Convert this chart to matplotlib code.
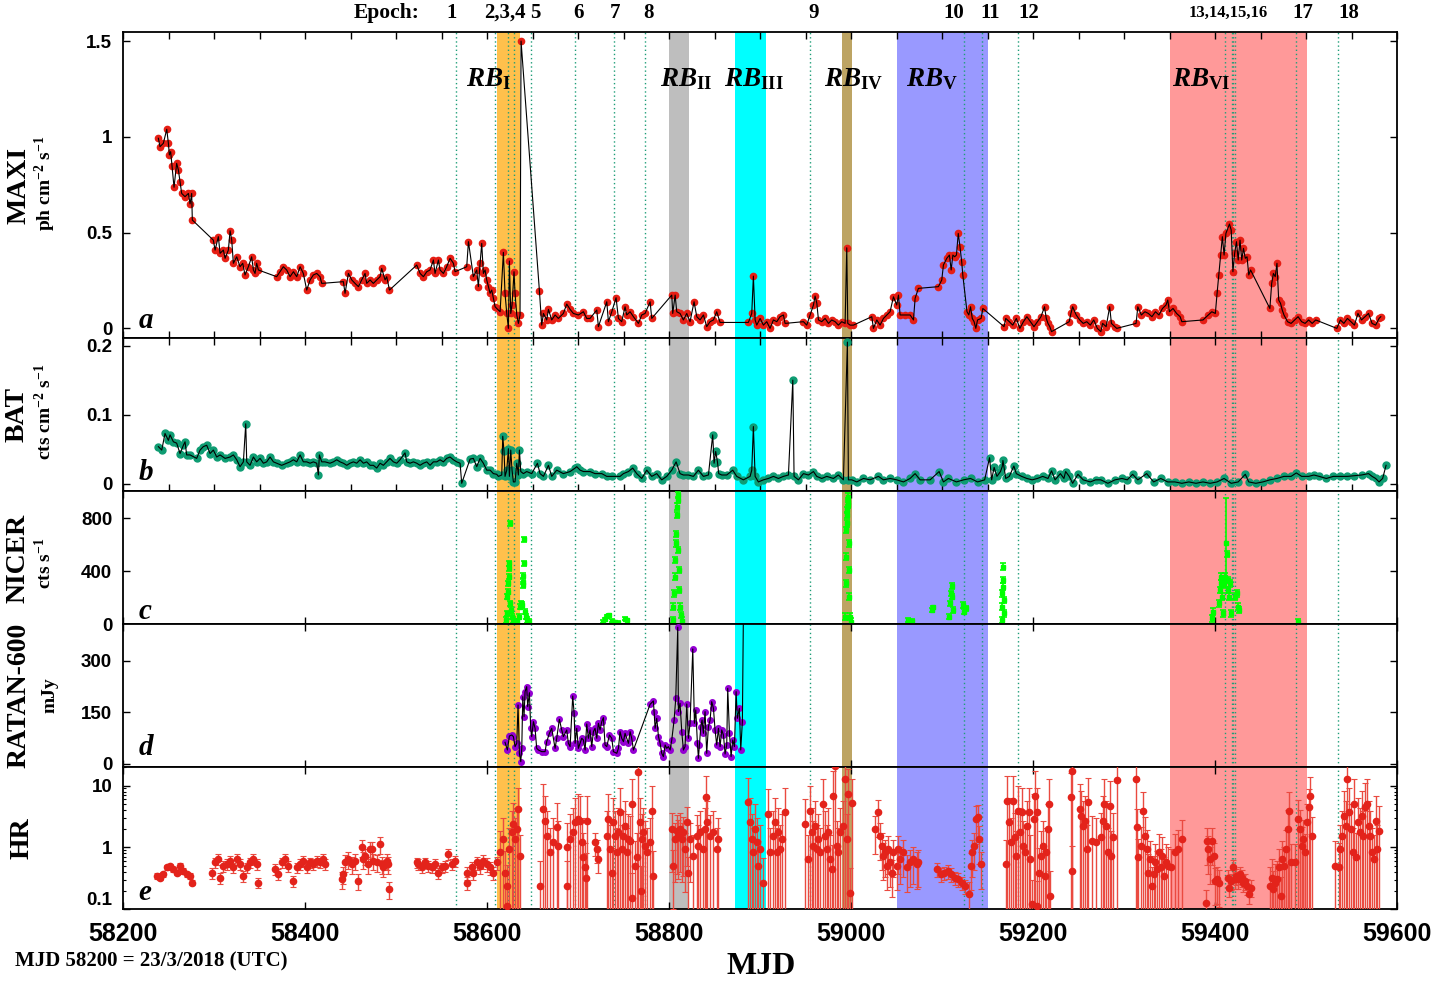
import matplotlib
matplotlib.use('Agg')
import matplotlib.pyplot as plt
from matplotlib.ticker import MultipleLocator, FixedLocator, FixedFormatter, LogLocator, NullFormatter

plt.rcParams['font.family'] = 'Liberation Sans'
plt.rcParams['font.weight'] = 'bold'
plt.rcParams['mathtext.fontset'] = 'custom'
plt.rcParams['mathtext.rm'] = 'Liberation Serif:bold'
plt.rcParams['mathtext.it'] = 'Liberation Serif:italic:bold'
plt.rcParams['mathtext.bf'] = 'Liberation Serif:bold'

# ---------------- data ----------------
# MAXI  (ph cm-2 s-1)
maxi_mjd = [
    58238.5, 58240.3, 58244.0, 58247.7, 58249.5, 58250.6, 58252.0, 58253.5, 58255.7, 58258.6,
    58260.5, 58262.3, 58264.1, 58267.8, 58271.5, 58273.3, 58275.1, 58275.8, 58298.9, 58300.8,
    58304.4, 58306.3, 58309.9, 58311.8, 58315.4, 58317.3, 58319.1, 58320.9, 58324.6, 58328.2,
    58331.2, 58333.7, 58337.4, 58341.0, 58342.9, 58344.7, 58346.5, 58348.4, 58368.5, 58372.2,
    58375.8, 58379.5, 58383.2, 58386.9, 58390.5, 58394.2, 58397.8, 58401.5, 58405.2, 58408.8,
    58412.5, 58416.1, 58418.0, 58441.8, 58443.6, 58447.3, 58451.0, 58454.6, 58458.3, 58461.9,
    58465.6, 58467.4, 58471.1, 58474.7, 58478.4, 58482.1, 58483.9, 58487.6, 58489.4, 58492.4,
    58522.4, 58526.1, 58529.7, 58533.4, 58537.0, 58540.7, 58542.5, 58546.2, 58548.0, 58551.7,
    58555.3, 58559.0, 58562.7, 58564.5, 58577.3, 58579.2, 58584.6, 58588.3, 58590.1, 58592.0,
    58593.8, 58595.6, 58597.5, 58599.3, 58601.1, 58603.0, 58604.8, 58606.6, 58608.5, 58610.3,
    58614.0, 58617.6, 58619.4, 58621.3, 58623.1, 58624.2, 58625.7, 58627.1, 58629.3, 58630.4,
    58632.3, 58634.1, 58635.9, 58637.0, 58657.2, 58659.7, 58661.6, 58665.2, 58667.1, 58670.7,
    58674.4, 58678.0, 58683.5, 58687.2, 58690.9, 58694.5, 58700.0, 58705.5, 58709.2, 58712.8,
    58720.2, 58722.0, 58731.2, 58733.0, 58736.7, 58741.4, 58744.0, 58747.6, 58751.3, 58753.1,
    58756.8, 58760.5, 58766.0, 58769.6, 58773.3, 58778.8, 58780.6, 58802.6, 58803.7, 58806.3,
    58808.1, 58811.7, 58815.4, 58819.1, 58822.7, 58827.1, 58830.1, 58833.7, 58837.4, 58841.0,
    58844.7, 58848.4, 58852.0, 58855.7, 58886.8, 58890.5, 58892.3, 58894.2, 58896.0, 58899.7,
    58903.3, 58907.0, 58910.6, 58914.3, 58918.0, 58921.6, 58925.3, 58927.1, 58947.3, 58950.9,
    58954.6, 58958.3, 58960.1, 58962.0, 58963.8, 58967.4, 58971.1, 58974.8, 58978.4, 58982.1,
    58985.7, 58989.4, 58993.1, 58994.9, 58996.0, 58998.6, 59002.2, 59022.4, 59024.2, 59027.9,
    59031.5, 59035.2, 59038.9, 59042.5, 59046.2, 59049.8, 59051.7, 59053.5, 59059.0, 59064.5,
    59068.2, 59070.0, 59073.6, 59095.6, 59099.3, 59101.1, 59104.8, 59107.7, 59109.6, 59111.5,
    59113.5, 59115.4, 59117.4, 59119.3, 59121.2, 59122.4, 59127.0, 59129.0, 59130.9, 59132.8,
    59134.8, 59136.7, 59138.6, 59142.5, 59144.4, 59167.7, 59169.6, 59173.5, 59177.3, 59181.2,
    59185.1, 59189.0, 59192.8, 59196.7, 59200.6, 59204.4, 59208.3, 59212.2, 59214.1, 59216.0,
    59218.0, 59219.9, 59239.3, 59241.2, 59243.1, 59247.0, 59250.9, 59254.7, 59258.6, 59262.5,
    59266.3, 59270.2, 59274.1, 59276.0, 59279.9, 59283.8, 59285.7, 59289.6, 59291.5, 59312.8,
    59314.7, 59318.6, 59322.5, 59326.3, 59330.2, 59334.1, 59337.9, 59341.8, 59345.7, 59347.6,
    59349.5, 59353.4, 59357.3, 59361.2, 59363.1, 59386.3, 59392.1, 59396.0, 59399.9, 59401.8,
    59403.7, 59405.7, 59407.6, 59409.5, 59411.5, 59415.4, 59417.3, 59419.2, 59421.1, 59423.1,
    59425.0, 59427.0, 59428.9, 59430.8, 59432.8, 59434.7, 59436.6, 59438.6, 59459.8, 59461.8,
    59463.7, 59465.7, 59467.6, 59469.5, 59471.5, 59473.4, 59475.3, 59479.2, 59483.1, 59487.0,
    59490.8, 59494.7, 59498.5, 59502.4, 59506.3, 59510.2, 59533.4, 59537.3, 59541.1, 59545.0,
    59548.9, 59552.7, 59556.6, 59560.5, 59564.3, 59568.2, 59572.1, 59576.0, 59579.8, 59581.7,
]
maxi_flux = [
    0.993, 0.949, 0.967, 1.040, 0.967, 0.906, 0.923, 0.850, 0.737, 0.862,
    0.827, 0.766, 0.705, 0.688, 0.705, 0.650, 0.705, 0.566, 0.461, 0.409,
    0.479, 0.392, 0.409, 0.366, 0.409, 0.510, 0.461, 0.340, 0.374, 0.322,
    0.340, 0.279, 0.322, 0.374, 0.305, 0.287, 0.340, 0.305, 0.270, 0.296,
    0.322, 0.305, 0.270, 0.296, 0.270, 0.322, 0.287, 0.200, 0.253, 0.279,
    0.287, 0.270, 0.235, 0.244, 0.183, 0.287, 0.253, 0.235, 0.218, 0.253,
    0.287, 0.235, 0.253, 0.235, 0.253, 0.270, 0.313, 0.253, 0.270, 0.200,
    0.331, 0.287, 0.270, 0.296, 0.305, 0.357, 0.287, 0.357, 0.305, 0.287,
    0.322, 0.366, 0.340, 0.296, 0.322, 0.453, 0.270, 0.305, 0.218, 0.340,
    0.444, 0.287, 0.305, 0.253, 0.218, 0.183, 0.200, 0.157, 0.113, 0.104,
    0.087, 0.397, 0.183, 0.078, 0.000, 0.352, 0.078, 0.122, 0.296, 0.183,
    0.070, 0.026, 0.070, 1.501, 0.195, 0.017, 0.078, 0.044, 0.099, 0.044,
    0.070, 0.052, 0.078, 0.127, 0.099, 0.078, 0.070, 0.087, 0.052, 0.052,
    0.096, 0.009, 0.139, 0.035, 0.087, 0.160, 0.052, 0.035, 0.113, 0.070,
    0.087, 0.061, 0.026, 0.070, 0.078, 0.139, 0.052, 0.174, 0.078, 0.174,
    0.087, 0.078, 0.044, 0.078, 0.035, 0.139, 0.061, 0.044, 0.070, 0.009,
    0.035, 0.044, 0.087, 0.031, 0.031, 0.078, 0.273, 0.044, 0.017, 0.052,
    0.017, 0.035, 0.000, 0.044, 0.035, 0.061, 0.070, 0.026, 0.035, 0.017,
    0.070, 0.122, 0.169, 0.131, 0.044, 0.035, 0.052, 0.026, 0.044, 0.035,
    0.017, 0.035, 0.026, 0.421, 0.026, 0.017, 0.017, 0.061, 0.000, 0.044,
    0.017, 0.052, 0.070, 0.087, 0.165, 0.122, 0.174, 0.070, 0.070, 0.070,
    0.044, 0.157, 0.209, 0.218, 0.253, 0.331, 0.366, 0.383, 0.305, 0.383,
    0.374, 0.383, 0.496, 0.427, 0.348, 0.279, 0.087, 0.070, 0.113, 0.052,
    0.035, 0.000, 0.044, 0.052, 0.104, 0.009, 0.052, 0.035, 0.017, 0.052,
    0.000, 0.035, 0.061, 0.035, 0.009, 0.035, 0.061, 0.113, 0.052, 0.026,
    0.009, -0.017, 0.035, 0.078, 0.113, 0.070, 0.044, 0.026, 0.035, 0.017,
    0.044, 0.000, -0.017, 0.026, 0.009, 0.113, 0.026, 0.009, 0.000, 0.026,
    0.113, 0.070, 0.087, 0.078, 0.061, 0.087, 0.070, 0.104, 0.122, 0.148,
    0.087, 0.104, 0.078, 0.061, 0.035, 0.044, 0.070, 0.087, 0.078, 0.183,
    0.279, 0.383, 0.479, 0.383, 0.496, 0.545, 0.514, 0.296, 0.392, 0.453,
    0.357, 0.461, 0.357, 0.418, 0.366, 0.374, 0.279, 0.305, 0.104, 0.235,
    0.287, 0.270, 0.340, 0.148, 0.131, 0.096, 0.070, 0.035, 0.026, 0.044,
    0.061, 0.035, 0.026, 0.044, 0.026, 0.044, 0.000, 0.044, 0.026, 0.052,
    0.035, 0.017, 0.078, 0.044, 0.061, 0.078, 0.026, 0.017, 0.052, 0.061,
]

# Swift/BAT (cts cm-2 s-1)
bat_mjd = [
    58238.5, 58242.2, 58245.8, 58249.5, 58251.3, 58255.0, 58258.6, 58262.3, 58266.0, 58267.8,
    58269.6, 58273.3, 58280.6, 58284.3, 58287.9, 58291.6, 58295.3, 58298.9, 58302.6, 58306.3,
    58311.8, 58317.3, 58320.9, 58324.6, 58328.2, 58331.9, 58334.5, 58335.6, 58339.2, 58342.9,
    58346.5, 58350.2, 58353.9, 58357.5, 58361.2, 58364.9, 58368.5, 58374.0, 58379.5, 58383.2,
    58386.9, 58390.5, 58394.2, 58397.8, 58401.5, 58405.2, 58408.8, 58412.5, 58414.3, 58415.4,
    58418.0, 58421.6, 58427.1, 58430.8, 58434.5, 58438.1, 58441.8, 58445.5, 58449.1, 58452.8,
    58456.4, 58460.1, 58463.8, 58467.4, 58471.1, 58474.7, 58478.4, 58482.1, 58485.7, 58489.4,
    58493.0, 58496.7, 58500.4, 58504.0, 58509.5, 58511.4, 58515.0, 58518.7, 58522.4, 58526.0,
    58529.7, 58533.4, 58537.0, 58540.7, 58544.4, 58548.0, 58551.7, 58555.3, 58559.0, 58562.7,
    58566.3, 58570.0, 58571.8, 58581.0, 58584.6, 58588.3, 58592.0, 58595.6, 58599.3, 58603.0,
    58606.6, 58610.3, 58612.1, 58615.8, 58616.9, 58618.3, 58619.4, 58621.3, 58623.1, 58624.2,
    58625.7, 58627.1, 58628.6, 58630.4, 58632.3, 58634.1, 58635.2, 58636.7, 58639.6, 58643.2,
    58648.7, 58655.0, 58657.9, 58661.6, 58667.1, 58670.7, 58676.2, 58683.5, 58690.9, 58696.4,
    58698.2, 58701.9, 58705.5, 58712.8, 58718.3, 58725.7, 58731.2, 58736.7, 58745.8, 58749.5,
    58755.0, 58759.7, 58764.1, 58769.6, 58775.1, 58780.6, 58786.1, 58791.6, 58797.1, 58802.6,
    58807.4, 58811.7, 58815.4, 58820.9, 58826.4, 58831.9, 58837.4, 58842.9, 58847.6, 58849.1,
    58850.9, 58852.8, 58854.2, 58857.5, 58863.0, 58869.6, 58874.0, 58881.3, 58888.7, 58890.5,
    58892.3, 58894.2, 58897.8, 58903.3, 58908.8, 58914.3, 58919.8, 58925.3, 58930.8, 58935.6,
    58937.0, 58941.8, 58947.3, 58952.8, 58958.3, 58961.9, 58967.4, 58972.9, 58980.2, 58985.7,
    58991.2, 58995.6, 58996.7, 59000.4, 59005.9, 59013.2, 59020.5, 59029.7, 59035.2, 59042.5,
    59049.8, 59057.2, 59064.5, 59070.0, 59075.5, 59086.5, 59096.4, 59101.1, 59106.6, 59115.4,
    59123.2, 59130.9, 59138.6, 59146.4, 59151.8, 59154.1, 59156.8, 59159.9, 59163.8, 59165.7,
    59166.5, 59169.6, 59173.5, 59178.5, 59181.2, 59187.0, 59192.8, 59198.6, 59204.4, 59210.2,
    59216.0, 59219.9, 59223.8, 59229.6, 59233.5, 59235.4, 59239.3, 59243.1, 59248.9, 59254.7,
    59262.5, 59268.3, 59274.1, 59281.8, 59289.6, 59297.3, 59303.1, 59309.0, 59314.7, 59324.4,
    59332.1, 59339.9, 59347.6, 59355.4, 59363.1, 59370.8, 59378.6, 59386.3, 59394.1, 59401.8,
    59409.5, 59417.3, 59425.0, 59432.8, 59436.6, 59444.4, 59452.1, 59459.9, 59467.6, 59475.3,
    59483.1, 59488.9, 59494.7, 59502.4, 59508.2, 59514.0, 59521.8, 59529.5, 59537.3, 59545.0,
    59552.7, 59560.5, 59568.2, 59572.1, 59576.0, 59579.8, 59583.7, 59587.5,
]
bat_rate = [
    0.054, 0.049, 0.073, 0.063, 0.071, 0.061, 0.059, 0.044, 0.056, 0.061,
    0.042, 0.042, 0.037, 0.049, 0.054, 0.056, 0.044, 0.049, 0.039, 0.042,
    0.037, 0.039, 0.042, 0.035, 0.025, 0.032, 0.087, 0.032, 0.027, 0.039,
    0.032, 0.037, 0.030, 0.032, 0.039, 0.032, 0.030, 0.027, 0.030, 0.032,
    0.035, 0.032, 0.042, 0.032, 0.032, 0.030, 0.032, 0.030, 0.013, 0.042,
    0.032, 0.032, 0.030, 0.032, 0.035, 0.032, 0.030, 0.027, 0.030, 0.032,
    0.030, 0.035, 0.030, 0.032, 0.027, 0.027, 0.023, 0.030, 0.027, 0.032,
    0.037, 0.032, 0.030, 0.035, 0.045, 0.032, 0.030, 0.032, 0.030, 0.027,
    0.030, 0.032, 0.027, 0.032, 0.032, 0.035, 0.032, 0.037, 0.039, 0.035,
    0.032, 0.030, 0.001, 0.036, 0.037, 0.025, 0.037, 0.030, 0.020, 0.020,
    0.015, 0.014, 0.011, 0.013, 0.069, 0.047, 0.011, 0.020, 0.051, 0.011,
    0.049, 0.020, 0.003, 0.003, 0.030, 0.013, 0.049, 0.018, 0.015, 0.018,
    0.015, 0.030, 0.015, 0.011, 0.027, 0.011, 0.020, 0.015, 0.018, 0.023,
    0.025, 0.020, 0.018, 0.018, 0.015, 0.015, 0.011, 0.011, 0.011, 0.015,
    0.018, 0.023, 0.015, 0.008, 0.020, 0.011, 0.015, 0.006, 0.011, 0.020,
    0.032, 0.015, 0.013, 0.013, 0.011, 0.020, 0.011, 0.013, 0.071, 0.030,
    0.047, 0.032, 0.015, 0.013, 0.013, 0.020, 0.011, 0.006, 0.011, 0.020,
    0.083, 0.011, 0.003, 0.006, 0.008, 0.011, 0.008, 0.011, 0.013, 0.150,
    0.011, 0.006, 0.015, 0.013, 0.018, 0.011, 0.008, 0.011, 0.008, 0.013,
    0.006, 0.205, 0.006, 0.006, 0.003, 0.008, 0.006, 0.011, 0.006, 0.008,
    0.006, 0.003, 0.008, 0.015, 0.006, 0.006, 0.018, 0.003, 0.008, 0.003,
    0.006, 0.008, 0.003, 0.006, 0.038, 0.006, 0.024, 0.011, 0.018, 0.025,
    0.034, 0.008, 0.011, 0.026, 0.015, 0.011, 0.008, 0.006, 0.008, 0.011,
    0.008, 0.019, 0.006, 0.015, 0.008, 0.018, 0.011, 0.001, 0.014, 0.006,
    0.003, 0.006, 0.006, 0.001, 0.006, 0.008, 0.006, 0.014, 0.006, 0.015,
    0.003, 0.008, 0.003, 0.003, 0.001, 0.003, 0.001, 0.003, 0.001, 0.003,
    0.008, 0.001, 0.003, 0.014, 0.003, 0.001, 0.003, 0.006, 0.008, 0.011,
    0.011, 0.016, 0.011, 0.011, 0.013, 0.011, 0.008, 0.011, 0.011, 0.011,
    0.012, 0.013, 0.015, 0.011, 0.008, 0.003, 0.008, 0.027,
]

# NICER (cts s-1)
nicer_mjd = [
    58620.5, 58621.3, 58622.0, 58622.7, 58623.1, 58623.5, 58623.8, 58624.2, 58624.6, 58625.0,
    58625.7, 58626.8, 58628.6, 58630.4, 58632.3, 58635.2, 58635.9, 58636.7, 58637.8, 58638.9,
    58639.2, 58639.6, 58640.0, 58640.3, 58641.4, 58642.5, 58644.0, 58646.2,
    58726.8, 58729.3, 58731.9, 58734.1, 58736.7, 58740.3, 58744.0, 58751.3, 58753.1,
    58803.7, 58804.4, 58805.2, 58805.9, 58806.6, 58807.4, 58807.7, 58808.1, 58808.5, 58809.2,
    58809.6, 58809.9, 58810.3, 58810.7, 58811.4, 58812.9, 58814.3,
    58993.4, 58993.8, 58994.2, 58994.5, 58994.9, 58995.3, 58995.6, 58996.0, 58996.4, 58996.7,
    58997.1, 58997.5, 58997.8, 58998.6, 58999.3,
    59062.7, 59066.3, 59088.3, 59089.4,
    59107.7, 59108.5, 59109.2, 59110.0, 59110.8, 59111.5, 59122.4, 59123.9, 59125.5,
    59165.0, 59165.3, 59165.7, 59166.1, 59166.5, 59166.9, 59167.3, 59167.7,
    59396.0, 59397.2, 59403.7, 59404.9, 59405.7, 59406.5, 59407.6, 59408.8, 59409.6, 59410.3,
    59411.5, 59412.3, 59413.4, 59414.2, 59415.4, 59416.5, 59417.3, 59421.9, 59423.5, 59425.0,
    59426.2, 59490.8,
]
nicer_rate = [
    30, 81, 207, 245, 308, 358, 421, 459, 761, 156,
    106, 55, 30, 18, 18, 55, 131, 156, 144, 295,
    320, 366, 459, 640, 93, 55, 30, 18,
    18, 35, 60, 66, 25, 15, 10, 40, 30,
    30, 131, 232, 358, 484, 610, 681, 824, 888, 938,
    976, 560, 408, 257, 131, 68, 25,
    55, 308, 509, 711, 761, 824, 862, 900, 925, 963,
    610, 408, 207, 55, 18,
    30, 25, 106, 126,
    55, 156, 232, 287, 207, 106, 144, 93, 118,
    30, 131, 232, 333, 434, 282, 182, 81,
    43, 93, 156, 257, 308, 358, 207, 81, 308, 358,
    610, 530, 333, 257, 207, 308, 81, 207, 232, 131,
    106, 15,
]
nicer_err = ([20] * 28 + [10] * 9 + [25] * 17 + [25] * 15 + [12] * 4 + [20] * 9
             + [25] * 8 + [25] * 10 + [340] + [25] * 11)

# RATAN-600 (mJy)
ratan_mjd = [
    58619.4, 58622.0, 58624.2, 58626.8, 58628.6, 58630.4, 58632.3, 58633.7, 58635.2, 58636.7,
    58637.8, 58638.9, 58640.3, 58641.4, 58643.2, 58644.3, 58646.2, 58647.6, 58648.7, 58650.6,
    58652.4, 58654.2, 58656.1, 58659.7, 58663.4, 58665.2, 58668.2, 58670.7, 58674.4, 58676.2,
    58679.1, 58681.7, 58683.5, 58687.2, 58689.0, 58690.9, 58693.8, 58695.3, 58696.4, 58698.2,
    58700.0, 58701.9, 58703.7, 58705.5, 58707.4, 58709.2, 58711.0, 58712.8, 58714.7, 58716.5,
    58718.3, 58720.2, 58722.0, 58723.8, 58725.7, 58727.5, 58729.3, 58731.2, 58734.1, 58736.7,
    58738.5, 58742.2, 58744.0, 58745.8, 58747.6, 58749.5, 58751.3, 58755.0, 58756.8, 58758.6,
    58760.5, 58778.8, 58782.4, 58783.2, 58784.3, 58786.1, 58788.0, 58789.8, 58791.6, 58793.4,
    58795.3, 58797.1, 58798.9, 58800.8, 58802.6, 58805.2, 58807.0, 58809.2, 58809.9, 58811.7,
    58813.6, 58815.4, 58817.2, 58819.1, 58820.9, 58822.7, 58825.7, 58827.5, 58829.0, 58830.8,
    58831.9, 58833.0, 58834.5, 58835.9, 58837.4, 58839.2, 58841.0, 58842.9, 58844.7, 58846.5,
    58848.4, 58850.2, 58852.0, 58853.9, 58855.7, 58857.5, 58859.4, 58861.2, 58863.0, 58864.1,
    58866.0, 58867.8, 58869.6, 58871.5, 58873.3, 58874.7, 58876.9, 58878.4, 58880.2, 58881.3,
]
ratan_flux = [
    62.9, 40.6, 81.2, 84.1, 79.3, 50.3, 60.0, 171.2, 30.9, 6.8,
    45.4, 195.3, 137.3, 209.8, 224.3, 166.3, 206.9, 103.5, 79.3, 122.8,
    103.5, 45.4, 40.6, 35.8, 35.8, 64.8, 89.0, 103.5, 45.4, 74.5,
    129.6, 98.6, 79.3, 98.6, 60.0, 50.3, 197.3, 147.0, 60.0, 103.5,
    45.4, 60.0, 74.5, 69.6, 40.6, 116.0, 74.5, 98.6, 50.3, 93.8,
    103.5, 74.5, 118.0, 98.6, 122.8, 134.4, 55.1, 50.3, 84.1, 74.5,
    35.8, 30.9, 45.4, 93.8, 74.5, 64.8, 89.0, 60.0, 93.8, 74.5,
    40.6, 173.1, 182.8, 151.8, 103.5, 132.5, 79.3, 60.0, 30.9, 21.3,
    55.1, 45.4, 50.3, 40.6, 69.6, 127.6, 190.5, 396.5, 151.8, 176.0,
    93.8, 40.6, 50.3, 174.1, 74.5, 118.0, 333.6, 118.0, 156.7, 60.0,
    16.4, 55.1, 108.3, 127.6, 89.0, 151.8, 30.9, 108.3, 127.6, 180.8,
    161.5, 98.6, 55.1, 103.5, 50.3, 98.6, 84.1, 29.0, 55.1, 219.5,
    89.0, 21.3, 69.6, 50.3, 209.8, 132.5, 161.5, 40.6, 122.8, 430.0,
]

# hardness ratio
hr_mjd = [
    58236.7, 58240.3, 58244.0, 58247.7, 58251.3, 58255.0, 58258.6, 58262.3, 58266.0, 58269.6, 58273.3, 58275.1,
    58297.1, 58300.8, 58304.4, 58306.3, 58309.9, 58313.6, 58317.3, 58320.9, 58324.6, 58328.2, 58331.9, 58335.6,
    58339.2, 58342.9, 58346.5, 58348.4,
    58366.7, 58370.4, 58374.0, 58377.7, 58381.4, 58386.8, 58390.5, 58394.2, 58397.8, 58401.5, 58405.2, 58408.8,
    58412.5, 58416.1, 58419.8, 58421.6,
    58440.0, 58441.8, 58443.6, 58447.3, 58451.0, 58454.6, 58458.3, 58461.9, 58463.8, 58465.6, 58469.3, 58471.1,
    58472.9, 58474.7, 58478.4, 58482.1, 58483.9, 58485.7, 58489.4, 58491.2, 58492.3,
    58522.4, 58524.2, 58527.9, 58531.5, 58535.2, 58538.9, 58542.5, 58546.2, 58549.8, 58553.5, 58557.2, 58560.8,
    58564.5,
    58577.3, 58578.0, 58582.8, 58584.6, 58588.3, 58592.0, 58595.6, 58599.3, 58603.0, 58606.6, 58610.3,
    58614.0, 58617.6, 58619.4, 58621.3, 58622.0, 58624.2, 58626.8, 58628.6, 58630.4, 58632.3, 58634.1, 58635.9,
    58657.9, 58661.6, 58663.4, 58665.2, 58668.9, 58672.6, 58676.2, 58678.0,
    58687.2, 58687.9, 58690.9, 58694.5, 58696.4, 58700.0, 58701.9, 58703.7, 58705.5, 58707.4, 58708.5, 58709.2,
    58718.3, 58720.2, 58722.0,
    58731.2, 58733.0, 58734.8, 58736.7, 58738.5, 58740.3, 58742.2, 58744.0, 58745.8, 58747.6, 58749.5, 58751.3,
    58753.1, 58755.0, 58756.8, 58758.6, 58759.4, 58762.3, 58764.1, 58766.0, 58767.8, 58768.5, 58769.6, 58771.5,
    58773.3, 58775.1, 58778.8, 58780.6, 58782.4,
    58802.6, 58804.4, 58806.3, 58808.1, 58809.9, 58811.7, 58813.6, 58815.4, 58817.2, 58819.1, 58820.9, 58822.7,
    58826.4, 58830.1, 58831.9, 58833.7, 58837.4, 58839.2, 58840.3, 58841.8, 58844.7, 58848.4, 58852.0, 58853.9,
    58886.8, 58888.7, 58890.5, 58892.3, 58894.2, 58896.0, 58897.8, 58899.7, 58903.3, 58908.8, 58910.6, 58914.3,
    58916.1, 58918.0, 58919.8, 58921.6, 58923.5, 58927.1,
    58949.1, 58952.8, 58954.6, 58956.4, 58958.3, 58960.1, 58961.9, 58963.8, 58965.6, 58969.3, 58971.1, 58972.9,
    58974.8, 58976.6, 58978.4, 58980.2, 58982.1, 58983.9, 58985.7, 58987.6, 58991.2, 58993.1, 58994.9, 58996.7,
    58998.6, 59000.4,
    59026.0, 59029.7, 59031.5, 59033.4, 59035.2, 59037.0, 59038.9, 59040.7, 59042.5, 59044.4, 59046.2, 59049.8,
    59051.7, 59053.5, 59057.2, 59060.8, 59064.5, 59068.2, 59071.8, 59073.6,
    59094.1, 59098.0, 59101.9, 59105.7, 59109.6, 59113.5, 59117.4, 59121.2, 59125.1,
    59129.0, 59130.9, 59132.8, 59134.8, 59136.7, 59138.6, 59140.6, 59142.5,
    59169.6, 59171.5, 59173.5, 59175.4, 59177.3, 59179.3, 59181.2, 59183.1, 59185.1, 59187.0, 59189.0, 59190.9,
    59192.8, 59194.8, 59196.7, 59198.6, 59200.6, 59201.7, 59203.7, 59204.4, 59206.4, 59208.3, 59210.2, 59212.2,
    59214.1, 59216.0, 59217.2, 59218.0,
    59241.2, 59242.0, 59242.4, 59250.9, 59252.8, 59254.7, 59256.7, 59258.6, 59260.5, 59264.4, 59268.3, 59274.1,
    59276.0, 59278.0, 59279.9, 59281.8, 59283.8, 59285.7, 59287.6, 59291.5,
    59312.8, 59313.6, 59314.7, 59318.6, 59320.5, 59322.5, 59324.4, 59326.3, 59328.3, 59330.2, 59332.1, 59334.1,
    59336.0, 59337.9, 59339.9, 59341.8, 59343.7, 59345.7, 59347.6, 59351.5, 59355.4, 59359.2, 59363.1,
    59389.4, 59390.2, 59392.1, 59394.1, 59396.0, 59397.9, 59399.9, 59401.8, 59403.7,
    59413.4, 59415.4, 59417.3, 59419.2, 59421.1, 59423.1, 59425.0, 59427.0, 59428.9, 59430.8, 59432.8, 59434.7,
    59436.6, 59438.6,
    59459.8, 59461.8, 59463.7, 59465.7, 59467.6, 59469.5, 59471.5, 59473.4, 59475.3, 59477.3, 59479.2, 59481.1,
    59483.1, 59487.0, 59490.8, 59492.8, 59494.7, 59496.6, 59498.5, 59500.5, 59502.4, 59504.3, 59506.3,
    59531.4, 59535.3, 59537.3, 59539.2, 59541.1, 59543.1, 59545.0, 59546.9, 59548.9, 59550.8, 59552.7, 59554.7,
    59556.6, 59558.5, 59560.5, 59562.4, 59564.3, 59566.3, 59568.2, 59570.1, 59572.1, 59574.0, 59575.9, 59577.9,
    59579.8,
]
hr_ratio = [
    0.347, 0.326, 0.370, 0.474, 0.492, 0.445, 0.393, 0.504, 0.418, 0.370, 0.347, 0.271,
    0.393, 0.571, 0.647, 0.326, 0.504, 0.537, 0.608, 0.474, 0.647, 0.537, 0.347, 0.474,
    0.571, 0.647, 0.537, 0.271,
    0.445, 0.370, 0.571, 0.647, 0.504, 0.288, 0.474, 0.537, 0.608, 0.474, 0.571, 0.537,
    0.608, 0.571, 0.647, 0.537,
    0.306, 0.370, 0.571, 0.647, 0.537, 0.608, 0.288, 1.000, 0.647, 0.733, 0.537, 0.940,
    0.940, 0.608, 0.571, 1.130, 0.537, 0.474, 0.608, 0.537, 0.211,
    0.571, 0.537, 0.474, 0.571, 0.504, 0.474, 0.537, 0.393, 0.474, 0.504, 0.780, 0.537,
    0.608,
    0.393, 0.271, 0.474, 0.393, 0.571, 0.504, 0.608, 0.537, 0.474, 0.393, 0.571,
    0.830, 1.365, 0.393, 0.239, 0.113, 0.940, 1.751, 2.390, 1.365, 1.983, 4.180, 0.733,
    0.239, 4.180, 2.700, 1.546, 0.830, 1.205, 2.110, 1.064,
    1.000, 0.239, 1.365, 1.751, 2.543, 2.880, 2.700, 1.205, 0.689, 0.474, 0.326, 2.700,
    1.205, 0.940, 0.647,
    1.546, 2.880, 0.940, 0.393, 2.543, 1.546, 0.830, 1.751, 3.690, 0.940, 1.546, 2.246,
    0.830, 1.365, 1.280, 5.040, 0.155, 0.504, 0.689, 16.40, 2.543, 0.198, 1.365, 1.751,
    1.064, 0.830, 1.205, 3.930, 0.347,
    1.983, 0.504, 1.365, 1.860, 1.546, 1.983, 1.365, 1.751, 0.940, 2.543, 0.393, 1.365,
    0.733, 1.546, 1.064, 1.751, 0.940, 1.983, 6.450, 2.543, 1.546, 1.751, 0.940, 1.365,
    5.370, 2.543, 1.365, 0.830, 1.983, 1.205, 0.504, 0.940, 0.271, 3.470, 0.830, 1.546,
    2.543, 0.830, 1.751, 0.940, 1.365, 3.690,
    2.390, 0.647, 3.930, 1.751, 1.064, 2.246, 0.940, 1.365, 0.830, 5.040, 1.546, 0.940,
    1.751, 0.647, 0.445, 6.880, 21.00, 1.064, 0.830, 1.751, 2.246, 12.80, 1.365, 7.320,
    0.186, 5.170,
    1.983, 3.690, 1.546, 1.064, 0.733, 0.830, 0.504, 0.940, 0.571, 0.393, 0.830, 0.504,
    0.940, 0.647, 0.830, 0.474, 0.571, 0.647, 0.537, 0.571,
    0.445, 0.370, 0.393, 0.418, 0.370, 0.326, 0.306, 0.271, 0.239,
    0.175, 0.504, 0.830, 1.064, 2.880, 3.070, 1.365, 0.537,
    0.537, 5.700, 2.543, 1.205, 5.700, 1.450, 0.733, 3.930, 1.751, 3.690, 1.064, 0.830,
    2.246, 3.690, 0.647, 0.120, 2.880, 6.880, 0.113, 3.690, 0.393, 0.733, 1.064, 0.347,
    0.830, 1.983, 5.040, 0.164,
    6.450, 17.50, 0.418, 4.180, 3.260, 2.246, 2.700, 0.940, 5.370, 1.280, 1.205, 1.450,
    2.700, 5.040, 2.246, 0.830, 4.740, 0.733, 1.450, 12.50,
    12.80, 2.110, 0.689, 1.064, 3.930, 1.546, 0.940, 0.393, 0.647, 0.239, 0.370, 0.571,
    0.445, 0.830, 0.474, 0.733, 0.347, 0.571, 0.504, 0.474, 0.830, 0.940, 1.365,
    0.128, 1.280, 0.940, 0.647, 1.280, 0.733, 0.288, 0.306, 0.271,
    0.326, 0.225, 0.288, 0.474, 0.306, 0.347, 0.306, 0.370, 0.326, 0.271, 0.288, 0.239,
    0.175, 0.225,
    0.239, 0.326, 0.211, 0.271, 0.306, 0.474, 0.164, 0.647, 0.504, 0.940, 1.983, 3.930,
    0.571, 0.571, 2.880, 1.983, 1.064, 1.365, 0.830, 2.543, 4.450, 6.880, 1.546,
    0.504, 0.474, 0.940, 1.546, 3.260, 2.246, 12.80, 3.690, 1.983, 0.830, 5.040, 0.689,
    2.543, 1.751, 3.260, 1.546, 4.450, 5.040, 2.246, 1.546, 0.830, 0.647, 2.700, 0.940,
    1.860,
]
# relative size of the HR error bars, group by group
hr_rel = ([0.1] * 12 + [0.2] * 16 + [0.2] * 16 + [0.3] * 21 + [0.2] * 13 + [0.25] * 11
          + [1.2] * 12 + [1.5] * 8 + [1.5] * 12 + [0.4] * 3 + [1.5] * 29 + [0.8] * 12
          + [1.2] * 12 + [1.5] * 18 + [1.5] * 26 + [0.6] * 20 + [0.25] * 9 + [0.6] * 8
          + [1.5] * 28 + [1.5] * 20 + [1.0] * 23 + [0.6] * 9 + [0.3] * 14 + [1.0] * 23
          + [1.5] * 25)

# shaded intervals RB I..VI
rb_start = [58610.6, 58799.7, 58872.2, 58989.8, 59050.2, 59350.5]
rb_end = [58635.6, 58821.3, 58906.0, 59000.4, 59150.3, 59500.5]
rb_colors = ['#FFC04C', '#BEBEBE', '#00FFFF', '#BDA463', '#9999FF', '#FF9999']
rb_names = ['I', 'II', 'III', 'IV', 'V', 'VI']
rb_label_x = [58576.6, 58789.8, 58860.1, 58970.0, 59060.1, 59352.4]

# observation epochs
epoch_mjd = [58565.6, 58608.7, 58622.7, 58629.0, 58648.4, 58696.0, 58739.6, 58773.0, 58954.6,
             59124.0, 59144.0, 59183.0, 59410.7, 59418.0, 59419.5, 59421.0, 59488.8, 59534.8]
epoch_labels = ['1', '2,3,4', '5', '6', '7', '8', '9', '10', '11', '12', '13,14,15,16', '17', '18']
epoch_label_x = [58560.9, 58619.5, 58652.4, 58699.7, 58740.3, 58776.6, 58959.0,
                 59112.4, 59152.0, 59195.3, 59414.0, 59496.0, 59547.0]

# ---------------- figure ----------------
fig = plt.figure(figsize=(14.51, 9.83), dpi=100)
left, width = 0.085, 0.8781
panels = [(0.6562, 0.9678), (0.5008, 0.6562), (0.3652, 0.5008), (0.2200, 0.3652), (0.0750, 0.2200)]
axes = [fig.add_axes([left, b, width, t - b]) for b, t in panels]
ax_a, ax_b, ax_c, ax_d, ax_e = axes

serif = 'Liberation Serif'

for i, ax in enumerate(axes):
    ax.set_xlim(58200, 59600)
    for s, e, c in zip(rb_start, rb_end, rb_colors):
        ax.axvspan(s, e, color=c, lw=0, zorder=0)
    for m in epoch_mjd:
        ax.axvline(m, color='#1E9E78', lw=1.0, ls=(0, (1, 2)), zorder=1)
    for sp in ax.spines.values():
        sp.set_linewidth(1.3)
    ax.xaxis.set_major_locator(MultipleLocator(50 if i < 2 else 200))
    ax.tick_params(axis='both', which='major', direction='in', top=True, right=True,
                   length=5, width=1.0, labelsize=13.5, pad=8)
    ax.tick_params(axis='x', labelbottom=False)

# a: MAXI
ax_a.plot(maxi_mjd, maxi_flux, 'o', color='#E61E14', ms=4.5, zorder=3)
ax_a.plot(maxi_mjd, maxi_flux, '-', color='k', lw=0.8, zorder=4)
ax_a.set_ylim(-0.05, 1.55)
ax_a.set_yticks([0, 0.5, 1, 1.5])
ax_a.set_yticklabels(['0', '0.5', '1', '1.5'])

# b: BAT
ax_b.plot(bat_mjd, bat_rate, 'o', color='#0E9C72', ms=5, zorder=3)
ax_b.plot(bat_mjd, bat_rate, '-', color='k', lw=0.8, zorder=4)
ax_b.set_ylim(-0.0097, 0.211)
ax_b.set_yticks([0, 0.1, 0.2])
ax_b.set_yticklabels(['0', '0.1', '0.2'])

# c: NICER
ax_c.errorbar(nicer_mjd, nicer_rate, yerr=nicer_err, fmt='s', ms=3, color='#00FF00',
              ecolor='#00FF00', elinewidth=1.2, capsize=2.5, capthick=1.2, zorder=3)
ax_c.set_ylim(0, 1008)
ax_c.set_yticks([0, 400, 800])

# d: RATAN-600
ax_d.plot(ratan_mjd, ratan_flux, 'o', color='#9400D3', ms=4, zorder=3)
ax_d.plot(ratan_mjd, ratan_flux, '-', color='k', lw=0.8, zorder=4)
ax_d.set_ylim(-8, 406)
ax_d.set_yticks([0, 150, 300])

# e: hardness ratio
hr_err = [v * r for v, r in zip(hr_ratio, hr_rel)]
ax_e.set_yscale('log')
ax_e.errorbar(hr_mjd, hr_ratio, yerr=hr_err, fmt='o', ms=4.5, color='#E3231B',
              ecolor='#EA4A40', elinewidth=1.0, capsize=2, capthick=0.8, zorder=3)
ax_e.set_ylim(0.1, 20.2)
ax_e.yaxis.set_major_locator(FixedLocator([0.1, 1, 10]))
ax_e.yaxis.set_major_formatter(FixedFormatter(['0.1', '1', '10']))
ax_e.yaxis.set_minor_locator(LogLocator(base=10, subs=range(2, 10)))
ax_e.yaxis.set_minor_formatter(NullFormatter())
ax_e.tick_params(axis='y', which='minor', direction='in', right=True, length=2.5, width=0.8)
ax_e.tick_params(axis='x', labelbottom=True, labelsize=18, pad=9)
fig.canvas.draw()
ax_e.get_yticklabels()[0].set_verticalalignment('bottom')

# panel letters
letter_y = [0.033, 0.07, 0.035, 0.082, 0.065]
for ax, let, y in zip(axes, 'abcde', letter_y):
    ax.text(0.012, y, let, transform=ax.transAxes, family=serif, style='italic',
            weight='bold', fontsize=21, ha='left', va='baseline', zorder=6)

# RB labels
for x, name in zip(rb_label_x, rb_names):
    ax_a.text(x, 1.266, r'$RB_{\mathrm{%s}}$' % name, fontsize=19.5, ha='left',
              va='baseline', zorder=6)

# epoch labels above the top panel
top = ax_a.get_xaxis_transform()
ax_a.text(58489.5, 1.061, 'Epoch:', transform=top, family=serif, weight='bold',
          fontsize=15.5, ha='center', va='center', clip_on=False)
for x, lab in zip(epoch_label_x, epoch_labels):
    fs = 12 if len(lab) > 6 else 15
    ax_a.text(x, 1.061, lab, transform=top, family=serif, weight='bold',
              fontsize=fs, ha='center', va='center', clip_on=False)

# y-axis titles
ylab = [('MAXI', 0.0131, 0.8118), ('BAT', 0.0121, 0.5788), ('NICER', 0.0121, 0.4324),
        ('RATAN-600', 0.0131, 0.293), ('HR', 0.0152, 0.1475)]
for txt, x, y in ylab:
    fig.text(x, y, txt, rotation=90, family=serif, weight='bold', fontsize=20,
             ha='center', va='center')
units = [(r'ph cm$^{\mathrm{-2}}$ s$^{\mathrm{-1}}$', 0.031, 0.8138),
         (r'cts cm$^{\mathrm{-2}}$ s$^{\mathrm{-1}}$', 0.031, 0.5809),
         (r'cts s$^{\mathrm{-1}}$', 0.031, 0.4273),
         ('mJy', 0.0348, 0.293)]
for txt, x, y in units:
    fig.text(x, y, txt, rotation=90, family=serif, weight='bold', fontsize=14,
             ha='center', va='center')

fig.text(0.5243, 0.0166, 'MJD', family=serif, weight='bold', fontsize=23,
         ha='center', va='center')
fig.text(0.0103, 0.0217, 'MJD 58200 = 23/3/2018 (UTC)', family=serif, weight='bold',
         fontsize=15, ha='left', va='center')

fig.savefig('out.png', dpi=100)
